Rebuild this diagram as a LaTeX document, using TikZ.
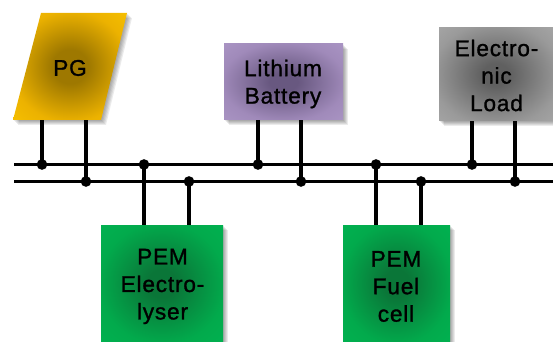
\documentclass[tikz,border=0pt]{standalone}
\usepackage{fontspec}
\setmainfont[LetterSpace=3.5,FakeBold=1.2]{Liberation Sans}
\definecolor{pgin}{RGB}{158,120,0}
\definecolor{pgmid}{RGB}{236,178,0}
\definecolor{pgout}{RGB}{255,204,0}
\definecolor{liin}{RGB}{104,88,128}
\definecolor{limid}{RGB}{160,138,186}
\definecolor{liout}{RGB}{178,158,204}
\definecolor{loin}{RGB}{96,96,96}
\definecolor{lomid}{RGB}{154,154,154}
\definecolor{loout}{RGB}{180,180,180}
\definecolor{grin}{RGB}{10,118,56}
\definecolor{grmid}{RGB}{2,170,76}
\definecolor{grout}{RGB}{0,184,84}
\pgfdeclareradialshading{pgshade}{\pgfpoint{0bp}{0bp}}{color(0bp)=(pgin); color(8bp)=(pgin); color(26bp)=(pgmid); color(46bp)=(pgout); color(100bp)=(pgout)}
\pgfdeclareradialshading{lishade}{\pgfpoint{0bp}{0bp}}{color(0bp)=(liin); color(6bp)=(liin); color(26bp)=(limid); color(46bp)=(liout); color(100bp)=(liout)}
\pgfdeclareradialshading{loshade}{\pgfpoint{0bp}{0bp}}{color(0bp)=(loin); color(6bp)=(loin); color(28bp)=(lomid); color(48bp)=(loout); color(100bp)=(loout)}
\pgfdeclareradialshading{grshade}{\pgfpoint{0bp}{0bp}}{color(0bp)=(grin); color(6bp)=(grin); color(26bp)=(grmid); color(46bp)=(grout); color(100bp)=(grout)}
\tikzset{
  wire/.style={line width=2.6pt,black},
  junction/.style={circle,fill=black,inner sep=0pt,minimum size=8pt},
  label text/.style={font=\fontsize{17pt}{20.6pt}\selectfont,align=center,text=black,inner sep=0pt},
  softshade/.style={fill=black,fill opacity=.08,draw=none}
}
\newcommand{\softbox}[4]{%
  \foreach \d in {1,2,3,4,5}{\path[softshade] (#1+\d,#2+\d) rectangle (#3+\d,#4+\d);}}
\begin{document}
\begin{tikzpicture}[x=0.75pt,y=-0.75pt]
\useasboundingbox (0,0) rectangle (553,342);
\clip (0,0) rectangle (553,342);
% shadows
\foreach \d in {1,2,3,4,5}{\path[softshade] (41+\d,13+\d) -- (127+\d,13+\d) -- (101+\d,120+\d) -- (13+\d,120+\d) -- cycle;}
\softbox{224}{44}{343}{120}
\softbox{439}{28}{553}{121}
\softbox{101}{225}{223}{342}
\softbox{343}{225}{450}{342}
% shapes
\path[shading=pgshade] (41,13) -- (127,13) -- (101,120) -- (13,120) -- cycle;
\path[shading=lishade] (224,44) rectangle (343,120);
\path[shading=loshade] (439,28) rectangle (553,121);
\path[shading=grshade] (101,225) rectangle (223,342);
\path[shading=grshade] (343,225) rectangle (450,342);
% labels
\node[label text] (pg) at (70,68) {PG};
\node[label text] (li) at (283,84) {Lithium\\Battery};
\node[label text] (lo) at (496.5,75.5) {Electro-\\nic\\Load};
\node[label text] (el) at (162.5,286.5) {PEM\\Electro-\\lyser};
\node[label text] (fc) at (396,286.5) {PEM\\Fuel\\cell};
% box edge anchors
\coordinate (pgb) at (0,120);
\coordinate (lib) at (0,120);
\coordinate (lob) at (0,121);
\coordinate (elt) at (0,225);
\coordinate (fct) at (0,225);
% buses
\coordinate (busAl) at (14,164.5);
\coordinate (busAr) at (553,164.5);
\coordinate (busBl) at (14,181.5);
\coordinate (busBr) at (553,181.5);
\draw[wire] (busAl) -- (busAr);
\draw[wire] (busBl) -- (busBr);
% junctions
\node[junction] (j1) at (42,164.5) {};
\node[junction] (j2) at (86,181.5) {};
\node[junction] (j3) at (144,164.5) {};
\node[junction] (j4) at (189,181.5) {};
\node[junction] (j5) at (258,164.5) {};
\node[junction] (j6) at (301,181.5) {};
\node[junction] (j7) at (376,164.5) {};
\node[junction] (j8) at (421,181.5) {};
\node[junction] (j9) at (472,164.5) {};
\node[junction] (j10) at (515,181.5) {};
% connectors
\draw[wire] (j1.center) -- (j1.center |- pgb);
\draw[wire] (j2.center) -- (j2.center |- pgb);
\draw[wire] (j3.center) -- (j3.center |- elt);
\draw[wire] (j4.center) -- (j4.center |- elt);
\draw[wire] (j5.center) -- (j5.center |- lib);
\draw[wire] (j6.center) -- (j6.center |- lib);
\draw[wire] (j7.center) -- (j7.center |- fct);
\draw[wire] (j8.center) -- (j8.center |- fct);
\draw[wire] (j9.center) -- (j9.center |- lob);
\draw[wire] (j10.center) -- (j10.center |- lob);
\end{tikzpicture}
\end{document}
